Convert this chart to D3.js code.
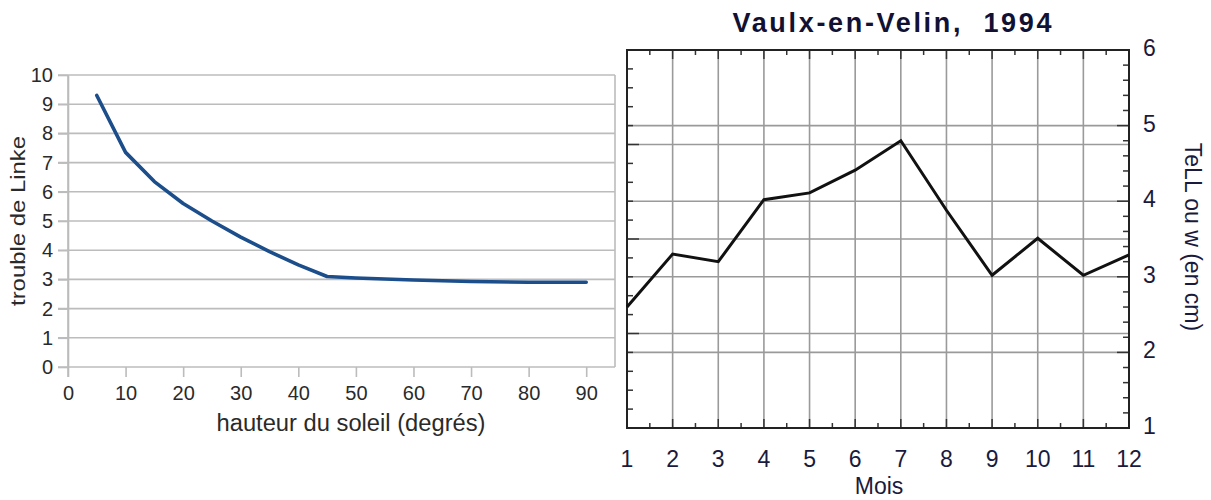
<!DOCTYPE html>
<html><head><meta charset="utf-8">
<script src="https://cdn.jsdelivr.net/npm/d3@7"></script>
<style>body{margin:0;background:#fff}svg{display:block}</style>
</head><body><svg id="c" width="1211" height="500"></svg>
<script>
// ---- Left panel data ----
const sunHeight = [5, 10, 15, 20, 25, 30, 35, 40, 45, 50, 60, 70, 80, 90];
const linkeTurbidity = [9.3, 7.35, 6.35, 5.6, 5.0, 4.45, 3.95, 3.5, 3.1, 3.05, 2.98, 2.93, 2.9, 2.9];
const leftXTicks = [0, 10, 20, 30, 40, 50, 60, 70, 80, 90];
const leftYTicks = [0, 1, 2, 3, 4, 5, 6, 7, 8, 9, 10];
// ---- Right panel data ----
const months = [1, 2, 3, 4, 5, 6, 7, 8, 9, 10, 11, 12];
const tellValues = [2.6, 3.3, 3.2, 4.02, 4.11, 4.41, 4.8, 3.88, 3.02, 3.51, 3.02, 3.29];
const rightYTicks = [1, 2, 3, 4, 5, 6];
const hiddenLeftTicks = [0, 1, 2, 3, 4]; // left scale of right panel (labels cropped)

const svg = d3.select("#c");
const FONT = "'Liberation Sans', Arial, sans-serif";

// ================= LEFT PANEL =================
const xL = d3.scaleLinear().domain([0, 95]).range([68, 615]);
const yL = d3.scaleLinear().domain([0, 10]).range([367, 75]);
const gL = svg.append("g");
const gridCol = "#bcbcbc";

gL.selectAll("line.hg").data(leftYTicks).join("line")
  .attr("x1", 58).attr("x2", xL(95)).attr("y1", d => yL(d)).attr("y2", d => yL(d))
  .attr("stroke", gridCol).attr("stroke-width", 1.6);
gL.append("line").attr("x1", xL(95)).attr("x2", xL(95)).attr("y1", yL(10)).attr("y2", yL(0))
  .attr("stroke", gridCol).attr("stroke-width", 1.6);

const axY = gL.append("g").attr("transform", `translate(${xL(0)},0)`)
  .call(d3.axisLeft(yL).tickValues(leftYTicks).tickSize(10).tickSizeOuter(0).tickPadding(5));
const axX = gL.append("g").attr("transform", `translate(0,${yL(0)})`)
  .call(d3.axisBottom(xL).tickValues(leftXTicks).tickSize(10).tickSizeOuter(0).tickPadding(9));
axX.select(".domain").remove();
gL.append("line").attr("x1", xL(0)).attr("x2", xL(0)).attr("y1", yL(10)).attr("y2", yL(0) + 10)
  .attr("stroke", gridCol).attr("stroke-width", 1.6);
[axY, axX].forEach(a => {
  a.selectAll(".domain").attr("stroke", gridCol).attr("stroke-width", 1.6);
  a.selectAll(".tick line").attr("stroke", gridCol).attr("stroke-width", 1.6);
  a.selectAll("text").attr("font-family", FONT).attr("font-size", 20).attr("fill", "#2a2a2a");
});

gL.append("path").datum(sunHeight.map((h, i) => [h, linkeTurbidity[i]]))
  .attr("fill", "none").attr("stroke", "#1b4e8b").attr("stroke-width", 3.6)
  .attr("stroke-linejoin", "round").attr("stroke-linecap", "round")
  .attr("d", d3.line().x(d => xL(d[0])).y(d => yL(d[1])));

gL.append("text").attr("x", 351).attr("y", 431).attr("text-anchor", "middle")
  .attr("font-family", FONT).attr("font-size", 23).attr("fill", "#2a2a2a")
  .attr("textLength", 269).attr("lengthAdjust", "spacingAndGlyphs")
  .text("hauteur du soleil (degrés)");
gL.append("text").attr("transform", "translate(25,221) rotate(-90)").attr("text-anchor", "middle")
  .attr("font-family", FONT).attr("font-size", 21).attr("fill", "#2a2a2a")
  .attr("textLength", 170).attr("lengthAdjust", "spacingAndGlyphs")
  .text("trouble de Linke");

// ================= RIGHT PANEL =================
const xR = d3.scaleLinear().domain([1, 12]).range([627, 1129]);
const yR = d3.scaleLinear().domain([1, 6]).range([428, 50]);
const yH = d3.scaleLinear().domain([0, 4]).range([428, 50]);
const gR = svg.append("g");
const gc = "#9a9a9a";
const ink = "#1a1a3c";

// vertical grid
gR.selectAll("line.vg").data(months.slice(1, -1)).join("line")
  .attr("x1", d => xR(d)).attr("x2", d => xR(d)).attr("y1", yR(6)).attr("y2", yR(1))
  .attr("stroke", gc).attr("stroke-width", 1.6);
// horizontal grids
gR.selectAll("line.hr").data(rightYTicks.slice(1, -1)).join("line")
  .attr("x1", xR(1)).attr("x2", xR(12)).attr("y1", d => yR(d)).attr("y2", d => yR(d))
  .attr("stroke", gc).attr("stroke-width", 1.6);
gR.selectAll("line.hh").data(hiddenLeftTicks.slice(1, -1)).join("line")
  .attr("x1", xR(1)).attr("x2", xR(12)).attr("y1", d => yH(d)).attr("y2", d => yH(d))
  .attr("stroke", gc).attr("stroke-width", 1.6);

// ticks
const tickCol = "#333";
const leftMinor = d3.range(0, 4.0001, 0.2);
gR.selectAll("line.lt").data(leftMinor).join("line")
  .attr("x1", xR(1)).attr("x2", d => xR(1) + (Math.abs(d - Math.round(d)) < 1e-6 ? 12 : 6))
  .attr("y1", d => yH(d)).attr("y2", d => yH(d)).attr("stroke", tickCol).attr("stroke-width", 1.5);
const rightMinor = d3.range(1, 6.0001, 0.2);
gR.selectAll("line.rt").data(rightMinor).join("line")
  .attr("x1", xR(12)).attr("x2", d => xR(12) - (Math.abs(d - Math.round(d)) < 1e-6 ? 12 : 6))
  .attr("y1", d => yR(d)).attr("y2", d => yR(d)).attr("stroke", tickCol).attr("stroke-width", 1.5);
const halfMonths = d3.range(1, 12.0001, 0.5);
gR.selectAll("line.tt").data(halfMonths).join("line")
  .attr("x1", d => xR(d)).attr("x2", d => xR(d))
  .attr("y1", yR(6)).attr("y2", d => yR(6) + (Number.isInteger(d) ? 9 : 5))
  .attr("stroke", tickCol).attr("stroke-width", 1.5);
gR.selectAll("line.bt").data(halfMonths).join("line")
  .attr("x1", d => xR(d)).attr("x2", d => xR(d))
  .attr("y1", yR(1)).attr("y2", d => yR(1) - (Number.isInteger(d) ? 9 : 5))
  .attr("stroke", tickCol).attr("stroke-width", 1.5);

// frame
gR.append("rect").attr("x", xR(1)).attr("y", yR(6)).attr("width", xR(12) - xR(1)).attr("height", yR(1) - yR(6))
  .attr("fill", "none").attr("stroke", "#222").attr("stroke-width", 2);

// data line
gR.append("path").datum(months.map((m, i) => [m, tellValues[i]]))
  .attr("fill", "none").attr("stroke", "#111").attr("stroke-width", 3)
  .attr("d", d3.line().x(d => xR(d[0])).y(d => yR(d[1])));

// month labels
gR.selectAll("text.m").data(months).join("text")
  .attr("x", d => xR(d)).attr("y", 467).attr("text-anchor", "middle")
  .attr("font-family", FONT).attr("font-size", 23).attr("fill", ink).text(d => d);
// right y labels
gR.selectAll("text.r").data(rightYTicks).join("text")
  .attr("x", 1143).attr("y", d => yR(d) + 6).attr("text-anchor", "start")
  .attr("font-family", FONT).attr("font-size", 23).attr("fill", ink).text(d => d);

gR.append("text").attr("x", 879).attr("y", 494).attr("text-anchor", "middle")
  .attr("font-family", FONT).attr("font-size", 23).attr("fill", ink).text("Mois");
gR.append("text").attr("transform", "translate(1185,237) rotate(90)").attr("text-anchor", "middle")
  .attr("font-family", FONT).attr("font-size", 23).attr("fill", ink).text("TeLL ou w (en cm)");
gR.append("text").attr("x", 892).attr("y", 32).attr("text-anchor", "middle")
  .attr("xml:space", "preserve").style("white-space", "pre")
  .attr("font-family", FONT).attr("font-size", 27).attr("font-weight", "bold").attr("fill", "#111133")
  .attr("textLength", 319).attr("lengthAdjust", "spacing")
  .text("Vaulx-en-Velin,  1994");
</script></body></html>
